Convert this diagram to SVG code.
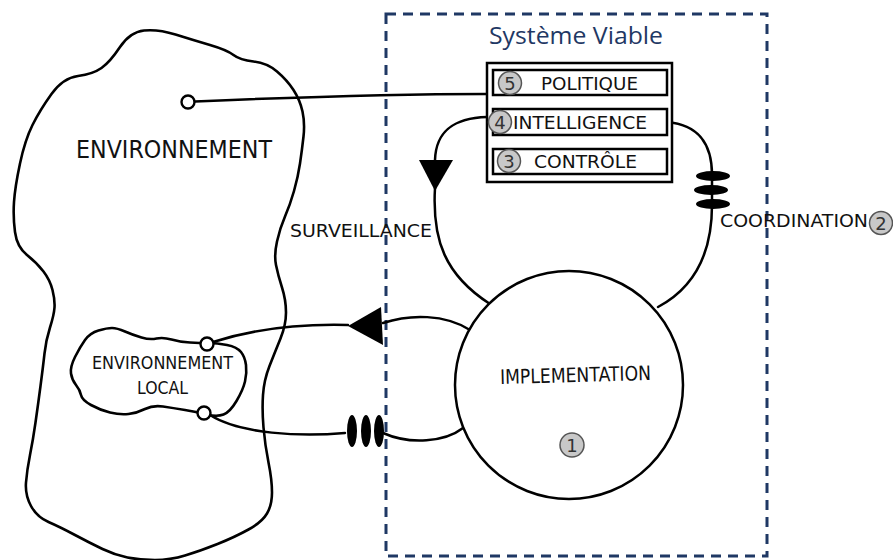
<svg xmlns="http://www.w3.org/2000/svg" width="893" height="560" viewBox="0 0 893 560">
<style>
.ln{fill:none;stroke:#000;stroke-width:2.5;stroke-linecap:round;stroke-linejoin:round}
.blob{fill:none;stroke:#000;stroke-width:2.6;stroke-linejoin:round}
.box{fill:#fff;stroke:#000;stroke-width:2.5}
.lbl{font-family:"DejaVu Sans","Liberation Sans",sans-serif;fill:#111}
.num{fill:#c8c8c8;stroke:#555;stroke-width:1.5}
.numt{font-family:"DejaVu Sans","Liberation Sans",sans-serif;font-size:18px;fill:#333;text-anchor:middle}
.port{fill:#fff;stroke:#000;stroke-width:2.4}
</style>
<rect width="893" height="560" fill="#fff"/>

<g id="environnement">
<path class="blob" d="M175.5,34.5 Q193,40 210,45 Q227,50 233.5,55 Q240,60 253.5,61.5 Q267,63 277,71.5 Q287,80 293.5,90 Q300,100 302.5,111.5 Q305,123 303.5,136.5 Q302,150 300,163.5 Q298,177 294,191 Q290,205 285,216.5 Q280,228 277,241.5 Q274,255 276,265 Q278,275 282,287.5 Q286,300 286,312.5 Q286,325 280.5,338.5 Q275,352 269.5,366 Q264,380 263,395 Q262,410 263.5,427.5 Q265,445 268.5,462.5 Q272,480 272,492.5 Q272,505 267,513.5 Q262,522 248.5,529.5 Q235,537 217.5,544 Q200,551 185,555.5 Q170,560 155,560 Q140,560 127.5,557.5 Q115,555 102.5,549 Q90,543 75,535 Q60,527 48.5,522 Q37,517 31,506 Q25,495 26,482.5 Q27,470 30,455 Q33,440 35.5,422.5 Q38,405 40.5,386 Q43,367 44.5,353.5 Q46,340 50,327.5 Q54,315 54.5,307.5 Q55,300 52.5,290 Q50,280 43.5,271.5 Q37,263 27,255 Q17,247 15,232 Q13,217 14,202 Q15,187 20,163.5 Q25,140 32.5,125 Q40,110 51.5,94 Q63,78 78,76 Q93,74 101.5,68 Q110,62 120,47 Q130,32 144,30.5 Q158,29 175.5,34.5 Z"/>
<text class="lbl" x="76" y="158" font-size="25" textLength="196" lengthAdjust="spacingAndGlyphs">ENVIRONNEMENT</text>
<circle class="port" cx="188" cy="102" r="6.5"/>
</g>

<g id="environnement-local">
<path class="blob" d="M112,328 Q117,328 125,331.5 Q133,335 141.5,337.5 Q150,340 156.5,338.5 Q163,337 171.5,339.5 Q180,342 190,342.5 Q200,343 208.5,343 Q217,343 227,345 Q237,347 241,352 Q245,357 246,365 Q247,373 245,381.5 Q243,390 236.5,401 Q230,412 223.5,414.5 Q217,417 207,414.5 Q197,412 185,410 Q173,408 163,406.5 Q153,405 145,409 Q137,413 128.5,414 Q120,415 110,412.5 Q100,410 91,405 Q82,400 81,395 Q80,390 76,385 Q72,380 71,373.5 Q70,367 75,357 Q80,347 85,340 Q90,333 98.5,330.5 Q107,328 112,328 Z"/>
<text class="lbl" x="92" y="369" font-size="18" textLength="141" lengthAdjust="spacingAndGlyphs">ENVIRONNEMENT</text>
<text class="lbl" x="137" y="394" font-size="18" textLength="51" lengthAdjust="spacingAndGlyphs">LOCAL</text>
</g>

<g id="systeme-viable">
<rect x="386" y="14" width="381" height="542" fill="none" stroke="#1f3864" stroke-width="3" stroke-dasharray="10,7"/>
<text x="489" y="44" font-family="'Open Sans','Noto Sans','Liberation Sans',sans-serif" font-size="23" fill="#1f3864" textLength="174" lengthAdjust="spacingAndGlyphs">Système Viable</text>
</g>

<g id="connectors">
<path class="ln" d="M195,101.5 C300,97 400,94 487,94"/>
<path class="ln" d="M213,342 C260,327 310,324 348,325"/>
<polygon points="348,326 381,307 383,345" fill="#000"/>
<path class="ln" d="M383,323 C410,314 445,314 470,330"/>
<path class="ln" d="M210,415 C240,434 300,437 345,433"/>
<path class="ln" d="M383,433 C410,445 445,442 463,428"/>
<g fill="#000">
<ellipse cx="352" cy="431" rx="5" ry="16"/>
<ellipse cx="366" cy="431" rx="5" ry="16"/>
<ellipse cx="379" cy="431" rx="5" ry="16"/>
</g>
<path class="ln" d="M487,117 C455,118 436,130 435,160"/>
<polygon points="419,160 453,160 435,191" fill="#000"/>
<path class="ln" d="M435,188 C432,240 445,275 490,304"/>
<path class="ln" d="M667,122 C700,125 712,145 712,175 L712,205 C712,260 690,290 658,307"/>
<g fill="#000">
<ellipse cx="713" cy="176" rx="17" ry="5"/>
<ellipse cx="711" cy="190" rx="17" ry="5"/>
<ellipse cx="713" cy="204" rx="17" ry="5"/>
</g>
<circle class="port" cx="207" cy="344" r="6.5"/>
<circle class="port" cx="204" cy="413" r="6.5"/>
</g>

<g id="gestion">
<rect class="box" x="487" y="63" width="185" height="119" stroke-width="3"/>
</g>

<g id="politique">
<rect class="box" x="493" y="70" width="174" height="25"/>
<circle class="num" cx="510" cy="83" r="11.5"/>
<text class="numt" x="510" y="89.5">5</text>
<text class="lbl" x="541" y="90" font-size="18" textLength="97" lengthAdjust="spacingAndGlyphs">POLITIQUE</text>
</g>

<g id="intelligence">
<rect class="box" x="493" y="109" width="174" height="26"/>
<circle class="num" cx="500" cy="122" r="11.5"/>
<text class="numt" x="500" y="128.5">4</text>
<text class="lbl" x="513" y="129" font-size="18" textLength="134" lengthAdjust="spacingAndGlyphs">INTELLIGENCE</text>
</g>

<g id="controle">
<rect class="box" x="493" y="149" width="174" height="25"/>
<circle class="num" cx="509" cy="161" r="11.5"/>
<text class="numt" x="509" y="167.5">3</text>
<text class="lbl" x="534" y="168" font-size="18" textLength="103" lengthAdjust="spacingAndGlyphs">CONTRÔLE</text>
</g>

<g id="implementation">
<circle cx="569" cy="385" r="114" fill="#fff" stroke="#000" stroke-width="2.5"/>
<text class="lbl" x="500" y="382" font-size="20" textLength="151" lengthAdjust="spacingAndGlyphs" transform="rotate(-1.5 575 378)">IMPLEMENTATION</text>
<circle class="num" cx="572" cy="445" r="12"/>
<text class="numt" x="572" y="451.5">1</text>
</g>

<g id="surveillance">
<text class="lbl" x="290" y="237" font-size="18" textLength="142" lengthAdjust="spacingAndGlyphs">SURVEILLANCE</text>
</g>

<g id="coordination">
<text class="lbl" x="720" y="227" font-size="18" textLength="148" lengthAdjust="spacingAndGlyphs">COORDINATION</text>
<circle class="num" cx="881" cy="223" r="11.5"/>
<text class="numt" x="881" y="229.5">2</text>
</g>
</svg>
